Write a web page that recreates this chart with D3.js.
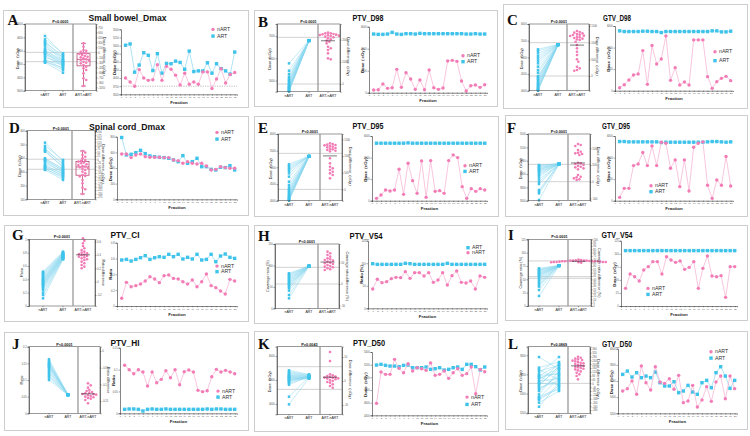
<!DOCTYPE html>
<html><head><meta charset="utf-8">
<script src="https://cdn.jsdelivr.net/npm/d3@7"></script>
<style>html,body{margin:0;padding:0;background:#fff;}svg{display:block;}</style>
</head><body>
<svg id="chart" width="750" height="436"></svg>
<script>
// ---------------- DATA ----------------
const groups = ['nART', 'ART', 'ART-nART'];
const fractionTicks = d3.range(0, 26);

// A: Small bowel_Dmax
const A_pairNART = [4640,4540,4480,4440,4400,4350,4270,4220,4190,4160,4140,4120,4090,4050,4000,3940,3900,3880,3860,3840];
const A_pairART  = [4090,4120,3980,4050,3940,3900,4020,3860,3920,3800,3880,3760,3840,3730,3820,3660,3780,3620,3700,3540];
const A_diff = [270,170,70,50,20,-10,-30,-50,-80,-110,-130,-150,-180,-210,-230,-250,-280,-310,-330,-380,-430,-480,-530,-630,-780,-830,-1010];
const A_lineART  = [5010,5050,4180,4400,4780,4700,4230,4750,4150,4450,4440,4520,4480,4270,4830,4200,4220,4220,4470,4150,4440,4290,4220,4120,4800];
const A_lineNART = [4000,3880,3750,4260,4000,3930,3950,4410,3930,4360,4270,4090,3790,4150,3810,3880,3810,4190,4190,3680,3970,4290,3850,4110,4170];
const A_refLines = [4150,3870];
const A_leftTicks = [3000,3400,3800,4200,4600,5000];
const A_rightTicks = [-1050,-900,-750,-600,-450,-300,-150,0,150,300,450,600,750];
const A_lineTicks = [3500,3750,4000,4250,4500,4750,5000,5250,5500];

// B: PTV_D98
const B_pairNART = [5775,5445,5295,5175,5085,5025,4965,4905,4845,4800,4755,4725,4695,4665,4635,4605,4575,4545,4530,4515];
const B_pairART  = [6810,6795,6780,6800,6820,6790,6805,6795,6785,6800,6810,6790,6795,6805,6780,6800,6795,6810,6790,6800];
const B_diff = [2310,2280,2280,2250,2235,2220,2205,2190,2175,2160,2130,2100,2055,2010,1950,1905,1830,1680,1605,1530,1380,1155,1110];
const B_lineNART = [242,273,788,394,455,2121,485,1818,1242,303,1151,273,2060,455,303,424,2879,2939,2848,1061,152,636,697,485,727];
const B_lineART  = [5333,5302,5302,5333,5484,5333,5302,5363,5363,5333,5393,5363,5363,5363,5363,5363,5363,5363,5363,5363,5333,5333,5363,5333,5333];
const B_refLines = [6945,4845];
const B_leftTicks = [5000,6000,7000];
const B_rightTicks = [0,1000,2000];
const B_lineTicks = [0,2000,4000,6000];

// C: GTV_D98
const C_pairNART = [5240,5190,5120,5040,4970,4900,4820,4720,4620,4540,4440,4400,4360,4320,4270,4220,4190,4160,4120,4090,4060,4040,4020,4000];
const C_pairART  = [5390,5380,5370,5385,5375,5380,5390,5370,5380,5385,5375,5380,5390,5370,5380,5385,5375,5380,5370,5385,5375,5380,5390,5370];
const C_diff = [1350,1320,1300,1280,1260,1240,1230,1210,1200,1180,1160,1140,1120,1100,1080,1030,930,830,730,630,500,430,280,230,180,160];
const C_lineNART = [279,558,992,1457,1550,3720,589,4185,2480,2945,5084,961,2139,527,806,527,4712,4712,4712,1302,217,837,1147,1333,930];
const C_lineART  = [5549,5487,5487,5487,5487,5518,5518,5487,5487,5394,5487,5487,5487,5487,5487,5487,5487,5487,5487,5487,5549,5549,5456,5456,5518];
const C_refLines = [5440,4440];
const C_leftTicks = [4000,4500,5000,5500,6000];
const C_rightTicks = [0,500,1000,1500];
const C_lineTicks = [0,2000,4000,6000];

// D: Spinal cord_Dmax
const D_pairNART = [513,489,472,460,455,447,399,392,387,382,375,362,350,343,338,333,326,319,314];
const D_pairART  = [375,387,350,362,333,338,319,326,307,314,294,302,285,290,270,277,253,265,241];
const D_diff = [61,49,32,19,7,-5,-10,-17,-24,-29,-36,-41,-49,-53,-58,-63,-68,-78,-90,-102,-114,-122,-126,-151,-175,-207,-219,-253];
const D_lineART  = [790,567,575,596,626,584,554,545,537,533,524,503,481,558,460,481,524,417,417,383,375,409,405,430,375];
const D_lineNART = [579,579,533,567,579,545,537,537,537,533,533,503,494,460,481,460,452,460,426,375,383,417,405,396,396];
const D_refLines = [392,319];
const D_leftTicks = [100,200,300,400,500,600];
const D_rightTicks = [-275,-250,-225,-200,-175,-150,-125,-100,-75,-50,-25,0,25,50,75,100,125,150,175,200];
const D_lineTicks = [0,200,400,600,800];

// E: PTV_D95
const E_pairNART = [5090,5040,4990,4940,4890,4820,4720,4570,4470,4400,4340,4300,4260,4220,4190,4160,4130,4100,4080,4060,4040,4020,4000];
const E_pairART  = [5340,5330,5320,5330,5340,5330,5320,5330,5340,5330,5320,5330,5340,5330,5320,5330,5340,5330,5320,5330,5340,5330,5320];
const E_diff = [1380,1360,1340,1330,1320,1300,1280,1260,1240,1220,1200,1180,1160,1140,930,780,680,630,580,530,480,430,330];
const E_lineNART = [217,527,992,899,992,2914,589,3472,1860,682,3689,310,3720,868,930,682,3720,4247,3999,1302,217,1116,868,1116,992];
const E_lineART  = [5332,5332,5332,5332,5332,5332,5332,5363,5332,5332,5332,5332,5332,5332,5332,5332,5332,5332,5332,5332,5332,5332,5332,5332,5332];
const E_refLines = [5420,4340];
const E_leftTicks = [4000,4500,5000,5500,6000];
const E_rightTicks = [0,500,1000,1500];
const E_lineTicks = [0,2000,4000,6000];

// F: GTV_D95
const F_pairNART = [4570,4550,4520,4500,4470,4440,4420,4390,4360,4320,4270,4220,4140,4070,4000,3820,3770,3720,3520];
const F_pairART  = [4610,4600,4620,4590,4600,4610,4620,4600,4590,4610,4600,4620,4590,4600,4610,4600,4620,4590,4600];
const F_diff = [1130,1100,1070,950,900,870,850,830,800,570,550,530,500,470,450,430,400,370,200,150,130,100,70,50];
const F_lineNART = [310,1147,1147,3255,3410,4464,3255,5084,3255,5425,5332,3007,3782,1302,3782,899,4960,5332,5456,1426,217,1922,1426,4092,1364];
const F_lineART  = [5487,5487,5456,5456,5456,5456,5456,5456,5456,5394,5425,5425,5425,5425,5425,5425,5425,5425,5425,5456,5487,5487,5456,5425,5456];
const F_refLines = [4590,4070];
const F_leftTicks = [3500,3900,4300,4700,5100,5500];
const F_rightTicks = [-500,0,500,1000];
const F_lineTicks = [0,2000,4000,6000];

// G: PTV_CI
const G_pairNART = [0.515,0.5,0.48,0.465,0.45,0.43,0.415,0.4,0.39,0.38,0.365,0.35,0.34,0.33,0.315,0.3,0.29,0.265,0.24,0.2,0.165,0.115];
const G_pairART  = [0.815,0.805,0.795,0.79,0.785,0.78,0.775,0.77,0.765,0.76,0.755,0.75,0.745,0.74,0.735,0.73,0.725,0.72,0.715,0.71,0.705,0.7];
const G_diff = [0.65,0.615,0.575,0.535,0.5,0.475,0.45,0.435,0.425,0.415,0.405,0.395,0.385,0.375,0.365,0.35,0.335,0.325,0.3,0.275,0.25,0.225,0.2];
const G_lineART  = [0.581,0.589,0.568,0.589,0.610,0.636,0.589,0.610,0.623,0.615,0.653,0.623,0.653,0.594,0.615,0.594,0.653,0.581,0.589,0.653,0.560,0.632,0.657,0.615,0.602];
const G_lineNART = [0.097,0.299,0.244,0.257,0.278,0.316,0.370,0.341,0.295,0.383,0.392,0.349,0.341,0.307,0.278,0.328,0.244,0.307,0.404,0.257,0.232,0.189,0.152,0.337,0.316];
const G_refLines = [];
const G_leftTicks = [0,0.2,0.4,0.6,0.8,1.0];
const G_rightTicks = [-0.2,0,0.2,0.4,0.6];
const G_lineTicks = [0,0.2,0.4,0.6,0.8];

// H: PTV_V54
const H_pairNART = [81.6,79.3,76.9,73.8,71.5,69.2,66,63.7,61.4,58.3,55.9,53.6,50.5,46.6,41.2,31.1,23.3];
const H_pairART  = [98.7,97.9,98.7,99.4,98.7,97.9,98.7,99.4,98.7,97.9,98.7,98.7,99.4,97.9,98.7,98.7,97.9];
const H_diff = [75.4,71.5,67.6,63.7,59.8,57.5,55.9,54.4,52.1,49.7,48.2,46.6,44.3,42,40.4,38.9,36.5,34.2,32.6];
const H_lineART  = [99,97.5,97.5,97.5,97.5,97.5,97.5,99.8,99,97.5,97.5,97.5,97.5,97.5,97.5,97.5,99.8,97.5,97.5,97.5,97.5,97.5,97.5,97.5,97.5];
const H_lineNART = [42.9,64.3,56.9,59.1,65.8,68.7,68,81.3,66.5,79.1,79.1,71.7,79.1,57.6,62.8,79.1,51.7,72.4,82.8,57.6,56.2,60.6,42.9,71.7,68.7];
const H_refLines = [95.6,56.7];
const H_leftTicks = [0,50,100,150];
const H_rightTicks = [-50,0,50];
const H_lineTicks = [0,50,100,150];

// I: GTV_V54
const I_pairNART = [70.6,68.8,67.5,66.3,64.4,62.5,61.3,59.4,58.1,56.3,55,51.9,48.8,45.6,42.5,39.4,36.3,30,18.8];
const I_pairART  = [76.2,75.6,75,75.6,76.2,75.6,75,75.6,76.2,75.6,75,75.6,76.2,75.6,75,75.6,76.2,75.6,75];
const I_diff = [69,68.5,68,67.5,67,67,66.5,66,66,65.5,65,67,68,66.5,67.5,66,67,68,65.5,69.5,66,67,68];
const I_lineART  = [106,106,106,106,106,106,106,106,106,106,106,106,106,106,106,106,106,106,106,106,106,106,106,106,106];
const I_lineNART = [33.8,61.2,56.1,47.9,68.9,75.3,84.9,84.9,61.2,94.4,88,83.6,86.1,70.2,74,84.9,33.8,72.1,95.7,57.4,56.1,58.1,16.6,75.3,75.3];
const I_refLines = [84.4,55,51.9];
const I_leftTicks = [0,25,50,75,100,125];
const I_rightTicks = d3.range(0, 101, 5);
const I_lineTicks = [0,25,50,75,100,125];

// J: PTV_HI
const J_pairNART = [0.162,0.157,0.152,0.15,0.147,0.144,0.142,0.14,0.137,0.132,0.127,0.122,0.117,0.112,0.107,0.1];
const J_pairART  = [0.056,0.055,0.057,0.054,0.056,0.055,0.057,0.056,0.054,0.055,0.056,0.057,0.055,0.054,0.056,0.055];
const J_diff = [-0.097,-0.103,-0.11,-0.117,-0.12,-0.123,-0.125,-0.127,-0.129,-0.13,-0.131,-0.133,-0.135,-0.137,-0.139,-0.141,-0.143,-0.147,-0.157];
const J_lineNART = [0.110,0.0997,0.0906,0.0997,0.0944,0.0624,0.0944,0.070,0.0776,0.0974,0.0814,0.0997,0.0654,0.0951,0.0989,0.0944,0.0525,0.0495,0.0517,0.0837,0.1005,0.0944,0.0982,0.0944,0.0906];
const J_lineART  = [0.0091,0.0099,0.0099,0.0091,0.0053,0.0091,0.0099,0.0091,0.0091,0.0099,0.0091,0.0091,0.0091,0.0091,0.0091,0.0091,0.0091,0.0091,0.0099,0.0091,0.0099,0.0099,0.0091,0.0091,0.0091];
const J_refLines = [];
const J_leftTicks = [0,0.05,0.1,0.15,0.2];
const J_rightTicks = [-0.15,-0.1,-0.05,0];
const J_lineTicks = [0,0.05,0.1,0.15];

// K: PTV_D50
const K_pairNART = [5403,5348,5306,5264,5222,5195,5167,5139,5125,5097,5083,5056,5028,5000,4972,4944,4917,4861,4805,4305,3985];
const K_pairART  = [5236,5209,5195,5181,5167,5153,5139,5125,5111,5097,5083,5070,5056,5153,5111,5181,5125,5097,5167,5139,5083];
const K_diff = [12.1,8.3,2.8,2.4,2.1,1.8,1.7,1.4,1.3,1.1,1.0,0.7,0.4,0,-0.4,-0.7,-1.4,-2.1,-2.8];
const K_lineART  = [5194,5205,5189,5178,5178,5168,5189,5194,5152,5152,5152,5163,5126,5136,5152,5115,5126,5152,5163,5126,5205,5205,5168,5115,5163];
const K_lineNART = [4589,5084,5047,5047,5284,5142,5073,5215,5100,5152,5136,5110,5226,5031,5047,5100,4984,5073,5136,5031,5058,5163,4742,5126,5089];
const K_refLines = [5556,4611];
const K_leftTicks = [4000,5000,6000];
const K_rightTicks = [-10,0,10];
const K_lineTicks = [4400,4600,4800,5000,5200,5400];

// L: GTV_D50
const L_pairNART = [5781,5670,5652,5635,5610,5590,5583,5576,5565,5548,5530,5513,5506,5496,5478,5461,5443,5426,5391,5367,5356,5346,5332,5304,5262];
const L_pairART  = [5652,5729,5541,5694,5781,5600,5704,5485,5617,5670,5555,5715,5496,5659,5687,5530,5583,5600,5635,5443,5565,5478,5461,5426,5513];
const L_diff = [278,268,258,251,244,237,230,223,216,209,202,195,188,181,174,167,160,153,146,136,125,111,94,77,42];
const L_lineART  = [5682,5723,5649,5703,5641,5661,5641,5711,5579,5538,5538,5591,5455,5476,5546,5464,5435,5579,5608,5517,5703,5777,5661,5509,5608];
const L_lineNART = [5476,5505,5600,5435,5785,5579,5488,5777,5587,5571,5628,5497,5670,5332,5352,5546,5278,5365,5530,5348,5587,5661,5381,5661,5505];
const L_refLines = [5506];
const L_leftTicks = [5200,5400,5600,5800];
const L_rightTicks = d3.range(-280, 361, 40);
const L_lineTicks = [5200,5400,5600,5800,6000];

// ---------------- STYLE / LAYOUT ----------------
const BLUE = '#3fc3ea', BLUE_LINE = '#8bd6ef', PINK = '#f27cb6', PINK_LINE = '#f5aed0', BOX_COLOR = '#b0305f';
const FONT = 'Liberation Sans, Arial, sans-serif';
const DOSE = 'Dose\uFF08cGy\uFF09', DDIFF = 'Dose difference\uFF08cGy\uFF09';

const panels = [
 {id:'A', title:'Small bowel_Dmax', p:'P<0.0001', pairN:A_pairNART, pairA:A_pairART, diff:A_diff, lineN:A_lineNART, lineA:A_lineART, ref:A_refLines,
  lt:A_leftTicks, rt:A_rightTicks, yt:A_lineTicks, ld:[3000,5000], rd:[-1150,850], yd:[3500,5500], dashed:3750, box:true,
  lab:[DOSE,DDIFF,DOSE], lay:{box:[3,10,245,97], letter:[7.5,25], title:[127.5,20.7,78], f:{l:25,t:24,d:73,r:96,b:90.7}, px:[45,63], ln:{l:121,t:29.3,r:237,b:94.3}, lg:{x:213, ys:[31,37.7], order:['nART','ART']}}},
 {id:'B', title:'PTV_D98', p:'P<0.0001', pairN:B_pairNART, pairA:B_pairART, diff:B_diff, lineN:B_lineNART, lineA:B_lineART, ref:B_refLines,
  lt:B_leftTicks, rt:B_rightTicks, yt:B_lineTicks, ld:[4500,7545], rd:[-345,2700], yd:[0,6000],
  lab:[DOSE,DDIFF,DOSE], lay:{box:[254,10,243,96], letter:[258,26.7], title:[368,20.7,31], f:{l:277,t:24,d:318,r:340,b:91.7}, px:[289,309], ln:{l:369,t:26.7,r:487,b:92.7}, lg:{x:463, ys:[57.3,63.3], order:['nART','ART']}}},
 {id:'C', title:'GTV_D98', p:'P<0.0001', pairN:C_pairNART, pairA:C_pairART, diff:C_diff, lineN:C_lineNART, lineA:C_lineART, ref:C_refLines,
  lt:C_leftTicks, rt:C_rightTicks, yt:C_lineTicks, ld:[4000,6000], rd:[-440,1560], yd:[0,6000],
  lab:[DOSE,DDIFF,DOSE], lay:{box:[503,4,244,104], letter:[507,25], title:[617,20.7,28], f:{l:529,t:24,d:567,r:589,b:90.7}, px:[538,558], ln:{l:615,t:26,r:733,b:90.7}, lg:{x:715, ys:[53.3,62.3], order:['nART','ART']}}},
 {id:'D', title:'Spinal cord_Dmax', p:'P<0.0001', pairN:D_pairNART, pairA:D_pairART, diff:D_diff, lineN:D_lineNART, lineA:D_lineART, ref:D_refLines,
  lt:D_leftTicks, rt:D_rightTicks, yt:D_lineTicks, ld:[100,600], rd:[-292,209], yd:[0,800], box:true,
  lab:[DOSE,DDIFF,DOSE], lay:{box:[3,116,245,99], letter:[9,133.3], title:[127,130,76], f:{l:27,t:130.7,d:72,r:95,b:199.3}, px:[45,63], ln:{l:117,t:136.7,r:237,b:199.3}, lg:{x:217, ys:[134,140.7], order:['nART','ART']}}},
 {id:'E', title:'PTV_D95', p:'P<0.0001', pairN:E_pairNART, pairA:E_pairART, diff:E_diff, lineN:E_lineNART, lineA:E_lineART, ref:E_refLines,
  lt:E_leftTicks, rt:E_rightTicks, yt:E_lineTicks, ld:[4000,6000], rd:[-340,1660], yd:[0,6000],
  lab:[DOSE,DDIFF,DOSE], lay:{box:[254,116,244,100], letter:[258,133.3], title:[368,129.3,31], f:{l:278,t:134,d:320,r:342,b:200.7}, px:[289,309], ln:{l:372,t:136,r:487,b:200.7}, lg:{x:465, ys:[167.3,173], order:['nART','ART']}}},
 {id:'F', title:'GTV_D95', p:'P<0.0001', pairN:F_pairNART, pairA:F_pairART, diff:F_diff, lineN:F_lineNART, lineA:F_lineART, ref:F_refLines,
  lt:F_leftTicks, rt:F_rightTicks, yt:F_lineTicks, ld:[3500,5500], rd:[-570,1430], yd:[0,6000],
  lab:[DOSE,DDIFF,DOSE], lay:{box:[505,115,242,101], letter:[507,133.3], title:[616,129.3,28], f:{l:528,t:134,d:568,r:590,b:200.7}, px:[539,559], ln:{l:615,t:136,r:733,b:200.7}, lg:{x:651, ys:[187.3,193.3], order:['nART','ART']}}},
 {id:'G', title:'PTV_CI', p:'P<0.0001', pairN:G_pairNART, pairA:G_pairART, diff:G_diff, lineN:G_lineNART, lineA:G_lineART, ref:G_refLines,
  lt:G_leftTicks, rt:G_rightTicks, yt:G_lineTicks, ld:[0,1], rd:[-0.365,0.635], yd:[0,0.8],
  lab:['Ratio','Ratio difference','Ratio'], lay:{box:[4,225,244,96], letter:[12,240], title:[125,238.3,29], f:{l:29,t:239.3,d:73,r:95,b:306}, px:[43,63], ln:{l:117,t:242.7,r:237,b:306}, lg:{x:217, ys:[267.7,273.3], order:['nART','ART']}}},
 {id:'H', title:'PTV_V54', p:'P<0.0001', pairN:H_pairNART, pairA:H_pairART, diff:H_diff, lineN:H_lineNART, lineA:H_lineART, ref:H_refLines,
  lt:H_leftTicks, rt:H_rightTicks, yt:H_lineTicks, ld:[0,150], rd:[-56.7,93.2], yd:[0,150],
  lab:['Coverage ratio (%)','Coverage ratio difference (%)','Ratio (%)'], lay:{box:[254,225,243,98], letter:[258,240.7], title:[366,239.3,33], f:{l:275,t:244,d:318,r:339,b:308.3}, px:[289,309], ln:{l:368,t:240.7,r:487,b:308.3}, lg:{x:468, ys:[249.3,254.3], order:['ART','nART']}}},
 {id:'I', title:'GTV_V54', p:'P<0.0001', pairN:I_pairNART, pairA:I_pairART, diff:I_diff, lineN:I_lineNART, lineA:I_lineART, ref:I_refLines,
  lt:I_leftTicks, rt:I_rightTicks, yt:I_lineTicks, ld:[0,125], rd:[0,100], yd:[0,125],
  lab:['Coverage ratio (%)','Coverage ratio difference (%)',DOSE], lay:{box:[505,225,242,95], letter:[508,240], title:[617,238.3,31], f:{l:528,t:239.3,d:568,r:591,b:306}, px:[539,559], ln:{l:621,t:240.7,r:737,b:306}, lg:{x:648, ys:[290,296], order:['nART','ART']}}},
 {id:'J', title:'PTV_HI', p:'P<0.0001', pairN:J_pairNART, pairA:J_pairART, diff:J_diff, lineN:J_lineNART, lineA:J_lineART, ref:J_refLines,
  lt:J_leftTicks, rt:J_rightTicks, yt:J_lineTicks, ld:[0,0.2], rd:[-0.187,0.013], yd:[0,0.15],
  lab:['Ratio','Ratio difference','Ratio'], lay:{box:[4,332,244,98], letter:[12,349.3], title:[125,346,29], f:{l:29,t:346.7,d:78,r:100,b:413.3}, px:[49,68], ln:{l:120,t:347.7,r:237,b:413.3}, lg:{x:218, ys:[392.7,398.7], order:['nART','ART']}}},
 {id:'K', title:'PTV_D50', p:'P=0.0043', pairN:K_pairNART, pairA:K_pairART, diff:K_diff, lineN:K_lineNART, lineA:K_lineART, ref:K_refLines,
  lt:K_leftTicks, rt:K_rightTicks, yt:K_lineTicks, ld:[3570,6390], rd:[-13.9,14.3], yd:[4400,5400],
  lab:[DOSE,DDIFF,DOSE], lay:{box:[254,331,244,100], letter:[258,349.3], title:[369,346,32], f:{l:277,t:346.7,d:320,r:342,b:414.3}, px:[289,309], ln:{l:372,t:352,r:487,b:415.3}, lg:{x:467, ys:[398.7,406], order:['nART','ART']}}},
 {id:'L', title:'GTV_D50', p:'P=0.0869', pairN:L_pairNART, pairA:L_pairART, diff:L_diff, lineN:L_lineNART, lineA:L_lineART, ref:L_refLines,
  lt:L_leftTicks, rt:L_rightTicks, yt:L_lineTicks, ld:[5193,5889], rd:[-313,383], yd:[5200,6000],
  lab:[DOSE,DDIFF,DOSE], lay:{box:[505,331,242,98], letter:[508,349.3], title:[617,346.7,30], f:{l:528,t:346.7,d:568,r:590,b:413.3}, px:[539,559], ln:{l:618,t:348.7,r:737,b:413.3}, lg:{x:711, ys:[353.3,359.7], order:['nART','ART']}}}
];

// ---------------- DRAWING ----------------
const svg = d3.select('#chart');
svg.append('rect').attr('width',750).attr('height',436).attr('fill','#fff');
const fmt = v => String(+(+v).toFixed(3));

function styleAxis(a, fs) {
  a.attr('font-size', fs || 2.6).attr('font-family', FONT);
  a.select('.domain').attr('stroke', '#333').attr('stroke-width', 0.6);
  a.selectAll('.tick line').attr('stroke', '#333').attr('stroke-width', 0.45);
  a.selectAll('.tick text').attr('fill', '#555');
}

function swarm(ys, cx, r) {
  const placed = [];
  ys.map(y => y).sort((a, b) => a - b).forEach(y => {
    let k = 0, x = cx;
    while (k < 60) {
      const off = k === 0 ? 0 : (k % 2 ? 1 : -1) * Math.ceil(k / 2) * r * 1.05;
      x = cx + off;
      if (placed.every(p => (p.x - x) ** 2 + (p.y - y) ** 2 >= (1.9 * r) ** 2)) break;
      k++;
    }
    placed.push({x, y});
  });
  return placed;
}

function drawPanel(p) {
  const L = p.lay, g = svg.append('g');
  g.append('rect').attr('x', L.box[0] + 0.5).attr('y', L.box[1] + 0.5).attr('width', L.box[2]).attr('height', L.box[3])
    .attr('fill', 'none').attr('stroke', '#cdcdcd').attr('stroke-width', 1);
  g.append('text').attr('x', L.letter[0]).attr('y', L.letter[1]).attr('font-family', 'Liberation Serif, Times New Roman, serif')
    .attr('font-weight', 'bold').attr('font-size', 15).attr('fill', '#111').text(p.id);
  g.append('text').attr('x', L.title[0]).attr('y', L.title[1]).attr('text-anchor', 'middle').attr('font-family', FONT)
    .attr('font-weight', 'bold').attr('font-size', 9.5).attr('textLength', L.title[2]).attr('lengthAdjust', 'spacingAndGlyphs')
    .attr('fill', '#111').text(p.title);

  // ---- paired estimation plot ----
  const f = L.f;
  const yL = d3.scaleLinear().domain(p.ld).range([f.b, f.t]);
  const yR = d3.scaleLinear().domain(p.rd).range([f.b, f.t]);
  const xCol = d3.scaleOrdinal().domain(groups).range([L.px[0], L.px[1], (f.d + f.r) / 2 - 1]);

  g.selectAll(null).data(p.ref).join('line').attr('x1', f.l).attr('x2', f.r)
    .attr('y1', d => yL(d)).attr('y2', d => yL(d)).attr('stroke', '#c6c6c6').attr('stroke-width', 0.8);

  const pairs = d3.zip(p.pairN, p.pairA);
  g.selectAll(null).data(pairs).join('line').attr('x1', xCol('nART')).attr('x2', xCol('ART'))
    .attr('y1', d => yL(d[0])).attr('y2', d => yL(d[1])).attr('stroke', BLUE_LINE).attr('stroke-width', 0.5);
  const sq = 2.5;
  [['nART', p.pairN], ['ART', p.pairA]].forEach(([k, arr]) => {
    g.selectAll(null).data(arr).join('rect').attr('x', xCol(k) - sq / 2).attr('y', d => yL(d) - sq / 2)
      .attr('width', sq).attr('height', sq).attr('fill', BLUE);
  });

  const cx = xCol('ART-nART');
  if (p.box) {
    const s = p.diff.slice().sort(d3.ascending);
    const q1 = d3.quantile(s, 0.25), med = d3.quantile(s, 0.5), q3 = d3.quantile(s, 0.75);
    const mn = s[0], mx = s[s.length - 1], w = 6.5;
    const bx = g.append('g').attr('stroke', BOX_COLOR).attr('stroke-width', 0.7).attr('fill', 'none');
    bx.append('line').attr('x1', cx).attr('x2', cx).attr('y1', yR(mn)).attr('y2', yR(q1));
    bx.append('line').attr('x1', cx).attr('x2', cx).attr('y1', yR(q3)).attr('y2', yR(mx));
    bx.append('line').attr('x1', cx - 2.5).attr('x2', cx + 2.5).attr('y1', yR(mn)).attr('y2', yR(mn));
    bx.append('line').attr('x1', cx - 2.5).attr('x2', cx + 2.5).attr('y1', yR(mx)).attr('y2', yR(mx));
    bx.append('rect').attr('x', cx - w).attr('width', 2 * w).attr('y', yR(q3)).attr('height', yR(q1) - yR(q3));
    bx.append('line').attr('x1', cx - w).attr('x2', cx + w).attr('y1', yR(med)).attr('y2', yR(med));
  }
  const pts = swarm(p.diff.map(v => yR(v)), cx, 1.3);
  g.selectAll(null).data(pts).join('circle').attr('cx', d => d.x).attr('cy', d => d.y).attr('r', 1.3).attr('fill', PINK);
  if (!p.box) {
    const m = d3.mean(p.diff);
    g.append('line').attr('x1', cx - 7).attr('x2', cx + 7).attr('y1', yR(m)).attr('y2', yR(m)).attr('stroke', '#222').attr('stroke-width', 0.6);
  }

  g.append('rect').attr('x', f.l).attr('y', f.t).attr('width', f.r - f.l).attr('height', f.b - f.t)
    .attr('fill', 'none').attr('stroke', '#555').attr('stroke-width', 0.6);
  g.append('line').attr('x1', f.d).attr('x2', f.d).attr('y1', f.t).attr('y2', f.b).attr('stroke', '#999').attr('stroke-width', 1.3);

  styleAxis(g.append('g').attr('transform', `translate(${f.l},0)`)
    .call(d3.axisLeft(yL).tickValues(p.lt).tickSize(1.5).tickPadding(0.8).tickFormat(fmt)));
  styleAxis(g.append('g').attr('transform', `translate(${f.r},0)`)
    .call(d3.axisRight(yR).tickValues(p.rt).tickSize(1.5).tickPadding(0.8).tickFormat(fmt)));
  groups.forEach(k => {
    g.append('line').attr('x1', xCol(k)).attr('x2', xCol(k)).attr('y1', f.b).attr('y2', f.b + 1.3).attr('stroke', '#333').attr('stroke-width', 0.45);
    g.append('text').attr('x', xCol(k)).attr('y', f.b + 5).attr('text-anchor', 'middle').attr('font-family', FONT)
      .attr('font-size', 3.5).attr('fill', '#222').text(k);
  });
  g.append('text').attr('x', (f.l + f.r) / 2).attr('y', f.t - 1).attr('text-anchor', 'middle').attr('font-family', FONT)
    .attr('font-weight', 'bold').attr('font-size', 3.8).attr('fill', '#111').text(p.p);
  g.append('text').attr('transform', `translate(${f.l - 6},${(f.t + f.b) / 2}) rotate(-90)`).attr('text-anchor', 'middle')
    .attr('font-family', FONT).attr('font-size', 3.8).attr('fill', '#222').text(p.lab[0]);
  g.append('text').attr('transform', `translate(${f.r + 6.5},${(f.t + f.b) / 2}) rotate(90)`).attr('text-anchor', 'middle')
    .attr('font-family', FONT).attr('font-size', 3.8).attr('fill', '#222').text(p.lab[1]);

  // ---- line chart by fraction ----
  const ln = L.ln;
  const x = d3.scaleLinear().domain([0, 25.5]).range([ln.l, ln.r]);
  const y = d3.scaleLinear().domain(p.yd).range([ln.b, ln.t]);
  if (p.dashed != null) {
    g.append('line').attr('x1', x(0)).attr('x2', x(25.5)).attr('y1', y(p.dashed)).attr('y2', y(p.dashed))
      .attr('stroke', '#777').attr('stroke-width', 0.5).attr('stroke-dasharray', '1.2,1.2');
  }
  const series = {
    ART: {vals: p.lineA, color: BLUE, lc: BLUE_LINE, shape: 'square'},
    nART: {vals: p.lineN, color: PINK, lc: PINK_LINE, shape: 'circle'}
  };
  ['ART', 'nART'].forEach(k => {
    const s = series[k];
    const data = s.vals.map((v, i) => [i + 1, v]);
    g.append('path').datum(data).attr('d', d3.line().x(d => x(d[0])).y(d => y(d[1])))
      .attr('fill', 'none').attr('stroke', s.lc).attr('stroke-width', 0.7);
    if (s.shape === 'square') {
      g.selectAll(null).data(data).join('rect').attr('x', d => x(d[0]) - 1.7).attr('y', d => y(d[1]) - 1.7)
        .attr('width', 3.4).attr('height', 3.4).attr('fill', s.color);
    } else {
      g.selectAll(null).data(data).join('circle').attr('cx', d => x(d[0])).attr('cy', d => y(d[1])).attr('r', 1.7).attr('fill', s.color);
    }
  });
  styleAxis(g.append('g').attr('transform', `translate(${ln.l},0)`)
    .call(d3.axisLeft(y).tickValues(p.yt).tickSize(1.5).tickPadding(0.8).tickFormat(fmt)));
  styleAxis(g.append('g').attr('transform', `translate(0,${ln.b})`)
    .call(d3.axisBottom(x).tickValues(fractionTicks).tickSize(1.3).tickPadding(0.6).tickFormat(d3.format('d'))), 2.4);
  g.append('text').attr('transform', `translate(${ln.l - 5},${(ln.t + ln.b) / 2}) rotate(-90)`).attr('text-anchor', 'middle')
    .attr('font-family', FONT).attr('font-weight', 'bold').attr('font-size', 4.3).attr('fill', '#222').text(p.lab[2]);
  g.append('text').attr('x', (ln.l + ln.r) / 2).attr('y', ln.b + 9.5).attr('text-anchor', 'middle').attr('font-family', FONT)
    .attr('font-weight', 'bold').attr('font-size', 4.4).attr('fill', '#222').text('Fraction');

  // legend
  L.lg.order.forEach((k, i) => {
    const s = series[k], ly = L.lg.ys[i], lx = L.lg.x;
    if (s.shape === 'square') g.append('rect').attr('x', lx - 1.7).attr('y', ly - 3.3).attr('width', 3.4).attr('height', 3.4).attr('fill', s.color);
    else g.append('circle').attr('cx', lx).attr('cy', ly - 1.6).attr('r', 1.7).attr('fill', s.color);
    g.append('text').attr('x', lx + 4).attr('y', ly).attr('font-family', FONT).attr('font-size', 5.2).attr('fill', '#333').text(k);
  });
}

panels.forEach(drawPanel);
</script>
</body></html>
